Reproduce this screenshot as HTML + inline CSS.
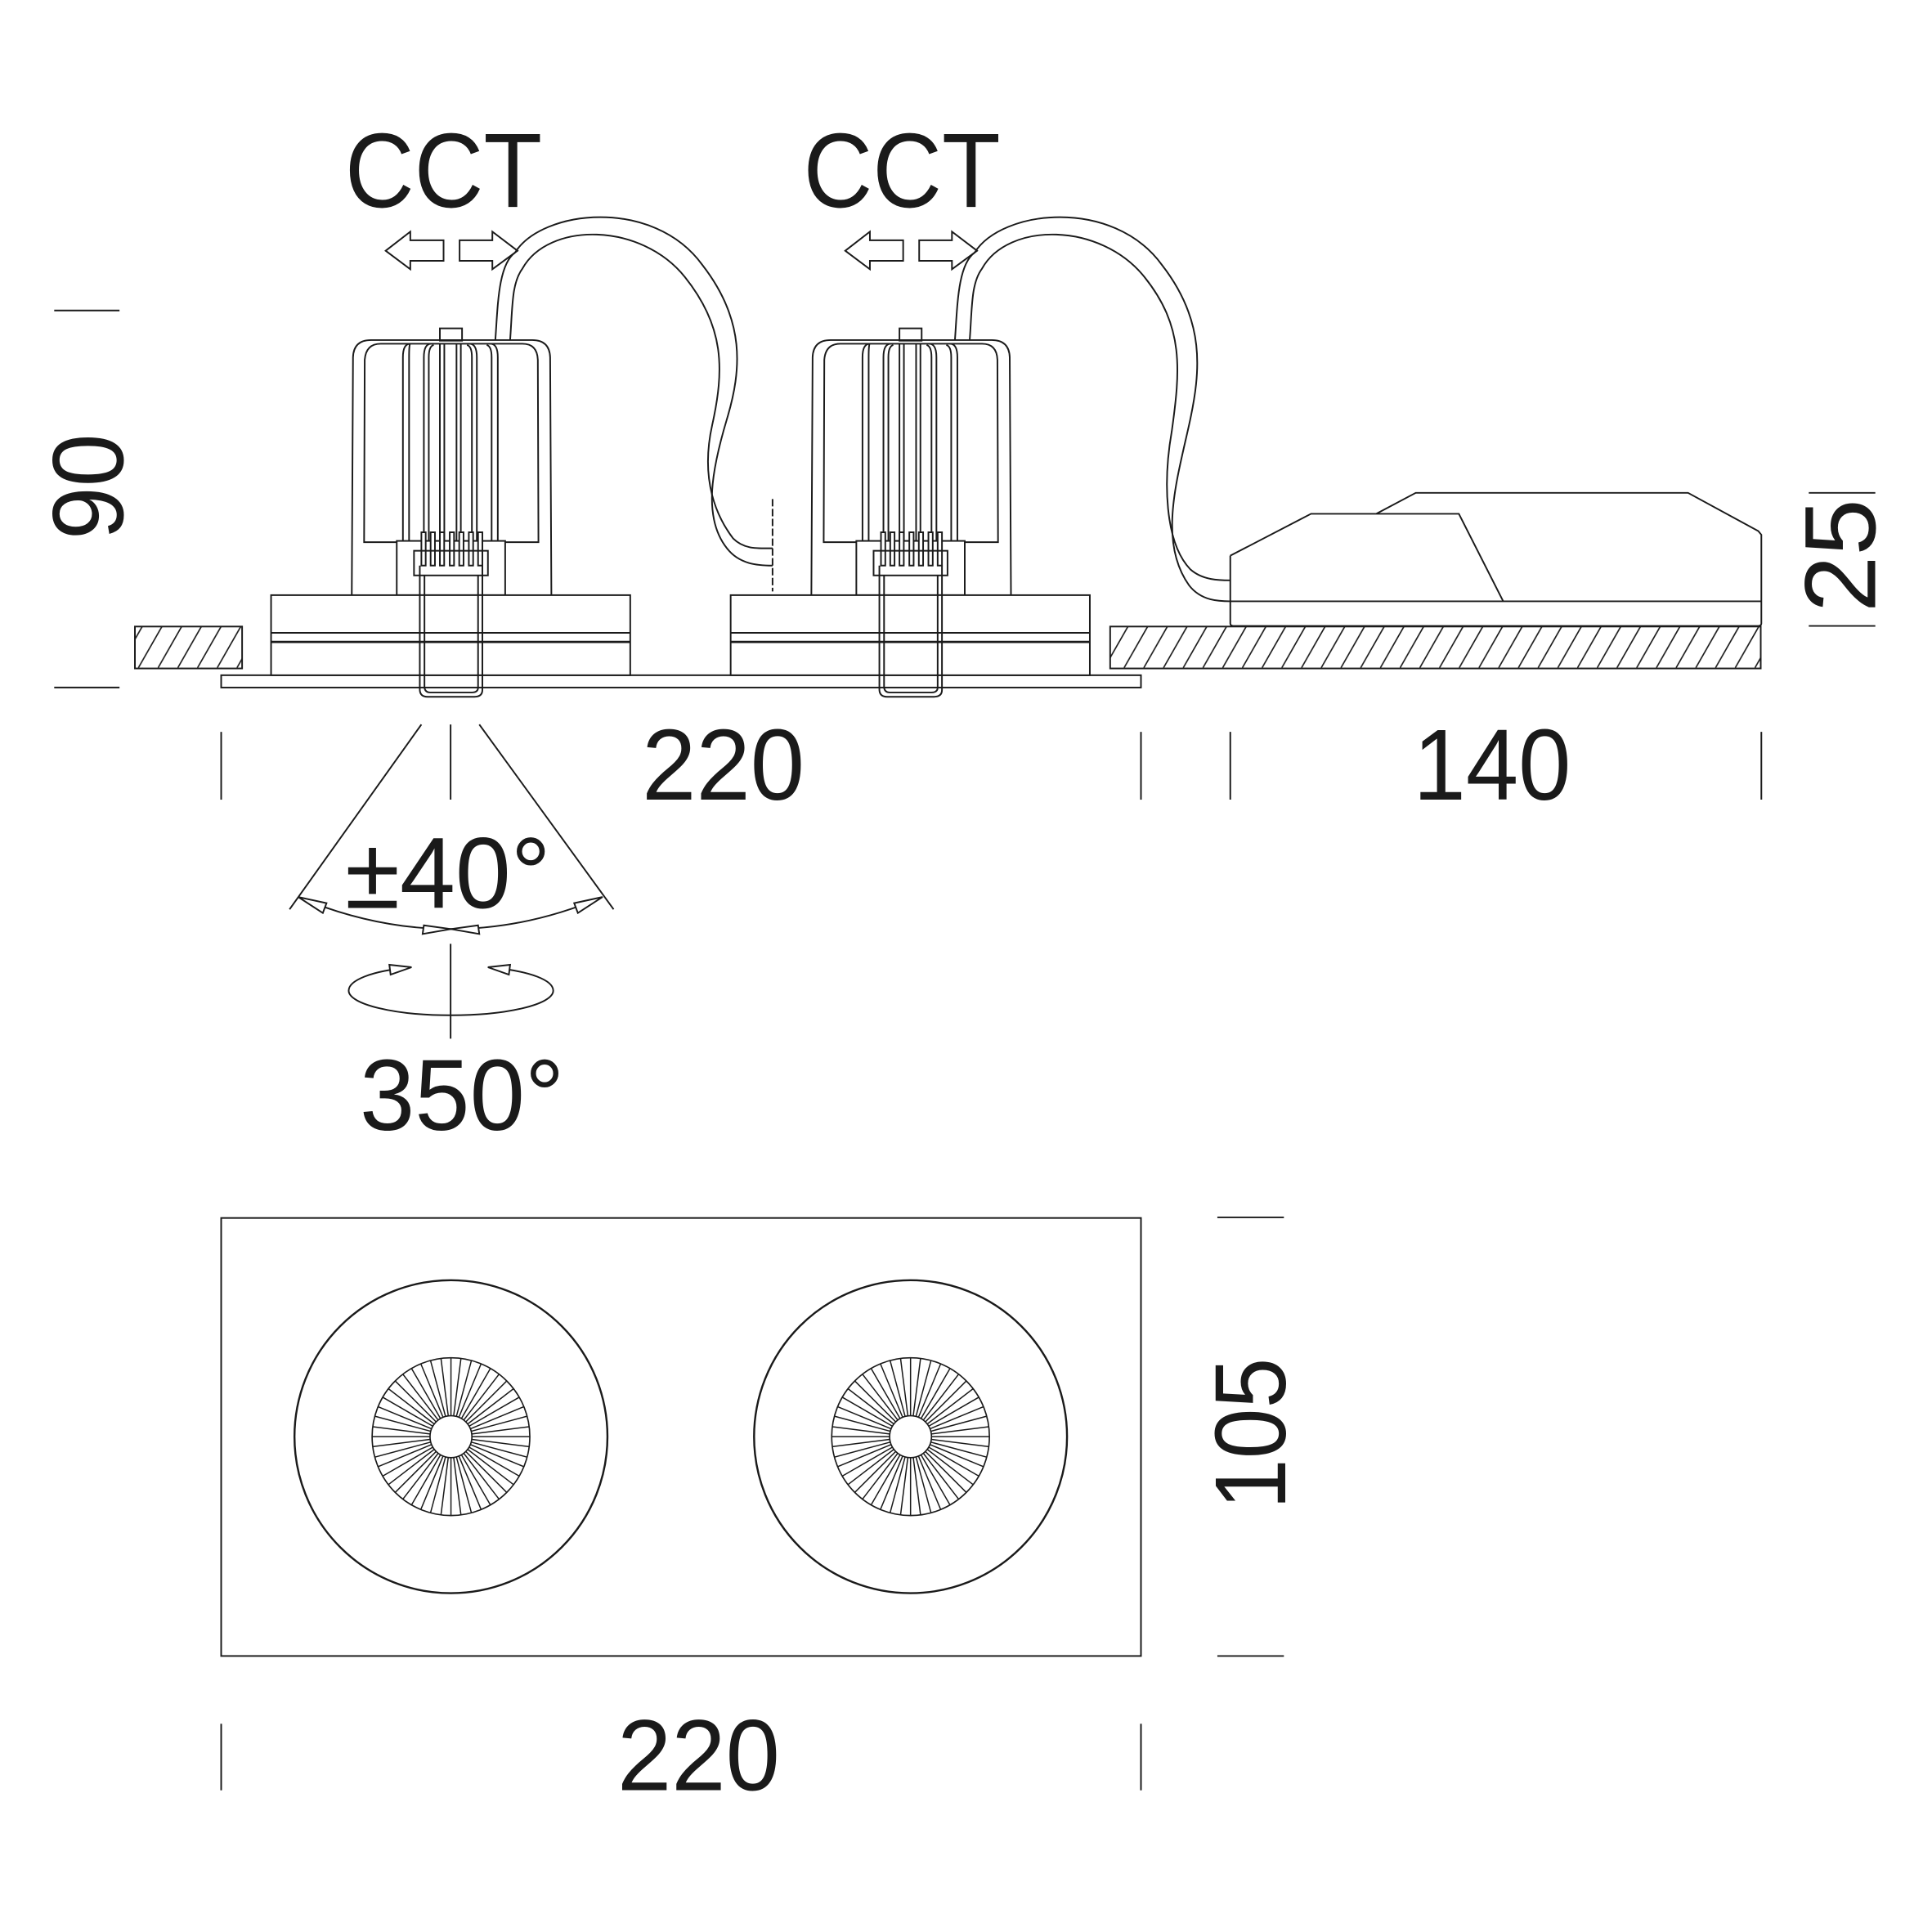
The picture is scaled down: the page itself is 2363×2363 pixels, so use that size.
<!DOCTYPE html>
<html><head><meta charset="utf-8"><style>html,body{margin:0;padding:0;background:#fff}svg{display:block}</style></head>
<body>
<svg width="2363" height="2363" viewBox="0 0 1568 1568" xmlns="http://www.w3.org/2000/svg">
<defs>
<pattern id="h" patternUnits="userSpaceOnUse" width="16" height="34" patternTransform="translate(0,508)">
<line x1="-2" y1="38" x2="22" y2="-4" stroke="#1a1a1a" stroke-width="1.1"/>
<line x1="-18" y1="38" x2="6" y2="-4" stroke="#1a1a1a" stroke-width="1.1"/>
</pattern>
<g id="lamp" fill="none" stroke="#1a1a1a" stroke-width="1.3">
<rect x="357" y="266.5" width="18" height="10" fill="#fff"/>
<path d="M285.5,483 L286.5,290 Q287,276 301,276 L432,276 Q446,276 446.5,290 L447.5,483"/>
<path d="M295.5,440 L296,292 Q297,279 309,279 L424,279 Q436,279 436.5,292 L437,440 Z"/>
<path d="M327,439 V290 Q327,279 333,279 Q332,279 332,290 V439"/>
<path d="M344,439 V290 Q344,279 350,279 M348,439 V290 Q348,281 352,280"/>
<line x1="357" y1="279" x2="357" y2="439"/><line x1="360.6" y1="279" x2="360.6" y2="439"/>
<line x1="370.5" y1="279" x2="370.5" y2="439"/><line x1="374" y1="279" x2="374" y2="439"/>
<path d="M383,439 V290 Q383,281 379,280 M387,439 V290 Q387,279 381,279"/>
<path d="M399,439 V290 Q399,281 395,280 M404,439 V290 Q404,279 398,279"/>
<rect x="322" y="439" width="88" height="44" fill="#fff"/>
<g fill="#fff"><rect x="342" y="432" width="3.5" height="27"/><rect x="349.5" y="432" width="3.5" height="27"/><rect x="357" y="432" width="3.5" height="27"/><rect x="365" y="432" width="3.5" height="27"/><rect x="372.7" y="432" width="3.5" height="27"/><rect x="380.5" y="432" width="3.5" height="27"/><rect x="388" y="432" width="3.5" height="27"/></g>
<rect x="336" y="447" width="60" height="20"/>
<rect x="220" y="483" width="291.5" height="65" fill="#fff"/>
<line x1="220" y1="513.6" x2="511.5" y2="513.6"/><line x1="220" y1="521" x2="511.5" y2="521" stroke-width="1.8"/>
<path d="M340.7,459 V560 Q341,565.5 347,565.5 H385 Q391.5,565.5 391.5,560 V459"/>
<path d="M344.5,467 V558 Q345,562 349,562 H383 Q388,562 388,558 V467"/>
<g transform="translate(-373,0)">
<path d="M686,203.5 L706,188 V195 H733 V211.7 H706 V218.5 Z"/>
<path d="M793,203.5 L772.6,188 V195 H746 V211.7 H772.6 V218.5 Z"/>
</g>
</g>
</defs>
<rect width="1568" height="1568" fill="#fff"/>
<g fill="none" stroke="#1a1a1a" stroke-width="1.3">
<rect x="109.5" y="508.5" width="87" height="34" fill="url(#h)"/>
<rect x="901" y="508.5" width="528" height="34" fill="url(#h)"/>
<rect x="179.5" y="548" width="746.5" height="10"/>
</g>
<use href="#lamp"/>
<use href="#lamp" transform="translate(373,0)"/>
<g fill="none" stroke="#1a1a1a" stroke-width="1.3">
<path d="M402,276 C404,250 404,215 418,205 C440,170 530,160 570,215 C605,260 602,300 590,340 C578,380 570,420 590,445 C600,458 615,459 627,459"/>
<path d="M414,276 C416,250 415,230 424,218 C445,180 520,180 556,225 C588,265 588,300 578,345 C568,390 582,420 595,437 C604,446 615,445 627,445"/>
<line x1="627" y1="405" x2="627" y2="480" stroke-dasharray="6 2"/>
<path d="M775,276 C777,250 777,215 791,205 C813,170 903,160 943,215 C978,260 975,300 965,345 C955,390 940,440 965,475 C975,488 990,488 998.5,488"/>
<path d="M787,276 C789,250 788,230 797,218 C818,180 893,180 929,225 C961,265 958,300 951,350 C944,390 945,440 966,462 C976,471 990,471 998.5,471"/>
<path d="M998.5,451 L1064,417 H1184 L1220,488 M998.5,451 V506 Q998.5,508 1001,508 H1427 Q1429.5,508 1429.5,506 V434 L1427,431 L1370,400 H1149 L1117,417"/>
<line x1="998.5" y1="488" x2="1429.5" y2="488"/>
<line x1="44" y1="252" x2="97" y2="252"/><line x1="44" y1="558" x2="97" y2="558"/>
<line x1="1468" y1="400" x2="1522" y2="400"/><line x1="1468" y1="508" x2="1522" y2="508"/>
<line x1="179.5" y1="594" x2="179.5" y2="649"/><line x1="926" y1="594" x2="926" y2="649"/>
<line x1="998.5" y1="594" x2="998.5" y2="649"/><line x1="1429.5" y1="594" x2="1429.5" y2="649"/>
<line x1="179.5" y1="1399" x2="179.5" y2="1453"/><line x1="926" y1="1399" x2="926" y2="1453"/>
<line x1="988" y1="988" x2="1042" y2="988"/><line x1="988" y1="1344" x2="1042" y2="1344"/>
<line x1="365.7" y1="588" x2="365.7" y2="649"/>
<line x1="342" y1="588" x2="235" y2="738"/><line x1="389" y1="588" x2="498" y2="738"/>
<path d="M242,728 Q366,780 489,728"/>
<path d="M242,728 L265,733 L262,741 Z M366,754 L344,751 L343,758 Z M366,754 L388,751 L389,758 Z M489,728 L466,733 L469,741 Z" fill="#fff"/>
<line x1="365.7" y1="766" x2="365.7" y2="843"/>
<path d="M334,785 C300,788 283,796 283,804 C283,815 320,824 366,824 C412,824 449,815 449,804 C449,796 432,788 396,785"/>
<path d="M334,785 L316,783 L317,791 Z M396,785 L414,783 L413,791 Z" fill="#fff"/>
<rect x="179.5" y="988.5" width="746.5" height="355.5"/>
<circle cx="366" cy="1166" r="127" stroke-width="1.6"/>
<circle cx="739" cy="1166" r="127" stroke-width="1.6"/>
</g>
<g fill="none" stroke="#1a1a1a" stroke-width="1.1">
<circle cx="366" cy="1166" r="64"/><circle cx="739" cy="1166" r="64"/>
</g>
<g stroke="#1a1a1a" stroke-width="1">
<path d="M366,1149V1102M366,1183V1230M349,1166H302M383,1166H430M739,1149V1102M739,1183V1230M722,1166H675M756,1166H803"/>
<path d="M370.4,1149.6L382.6,1104.2M374.5,1151.3L398,1110.6M378,1154L411.3,1120.7M380.7,1157.5L421.4,1134M382.4,1161.6L427.8,1149.4M382.4,1170.4L427.8,1182.6M380.7,1174.5L421.4,1198M378,1178L411.3,1211.3M374.5,1180.7L398,1221.4M370.4,1182.4L382.6,1227.8M361.6,1182.4L349.4,1227.8M357.5,1180.7L334,1221.4M354,1178L320.7,1211.3M351.3,1174.5L310.6,1198M349.6,1170.4L304.2,1182.6M349.6,1161.6L304.2,1149.4M351.3,1157.5L310.6,1134M354,1154L320.7,1120.7M357.5,1151.3L334,1110.6M361.6,1149.6L349.4,1104.2"/>
<path transform="translate(373,0)" d="M370.4,1149.6L382.6,1104.2M374.5,1151.3L398,1110.6M378,1154L411.3,1120.7M380.7,1157.5L421.4,1134M382.4,1161.6L427.8,1149.4M382.4,1170.4L427.8,1182.6M380.7,1174.5L421.4,1198M378,1178L411.3,1211.3M374.5,1180.7L398,1221.4M370.4,1182.4L382.6,1227.8M361.6,1182.4L349.4,1227.8M357.5,1180.7L334,1221.4M354,1178L320.7,1211.3M351.3,1174.5L310.6,1198M349.6,1170.4L304.2,1182.6M349.6,1161.6L304.2,1149.4M351.3,1157.5L310.6,1134M354,1154L320.7,1120.7M357.5,1151.3L334,1110.6M361.6,1149.6L349.4,1104.2"/>
<path d="M368.2,1149.1L374.1,1102.6M372.4,1150.3L390.4,1107M376.4,1152.5L405,1115.3M379.7,1155.6L416.9,1127M382,1159.5L425.3,1141.6M383,1163.8L429.5,1157.9M383,1168.2L429.5,1174.1M382,1172.5L425.3,1190.4M379.7,1176.4L416.9,1205M376.4,1179.5L405,1216.7M372.4,1181.7L390.4,1225M368.2,1182.9L374.1,1229.4M363.8,1182.9L357.9,1229.4M359.6,1181.7L341.6,1225M355.6,1179.5L327,1216.7M352.3,1176.4L315.1,1205M350,1172.5L306.7,1190.4M349,1168.2L302.5,1174.1M349,1163.8L302.5,1157.9M350,1159.5L306.7,1141.6M352.3,1155.6L315.1,1127M355.6,1152.5L327,1115.3M359.6,1150.3L341.6,1107M363.8,1149.1L357.9,1102.6"/>
<path transform="translate(373,0)" d="M368.2,1149.1L374.1,1102.6M372.4,1150.3L390.4,1107M376.4,1152.5L405,1115.3M379.7,1155.6L416.9,1127M382,1159.5L425.3,1141.6M383,1163.8L429.5,1157.9M383,1168.2L429.5,1174.1M382,1172.5L425.3,1190.4M379.7,1176.4L416.9,1205M376.4,1179.5L405,1216.7M372.4,1181.7L390.4,1225M368.2,1182.9L374.1,1229.4M363.8,1182.9L357.9,1229.4M359.6,1181.7L341.6,1225M355.6,1179.5L327,1216.7M352.3,1176.4L315.1,1205M350,1172.5L306.7,1190.4M349,1168.2L302.5,1174.1M349,1163.8L302.5,1157.9M350,1159.5L306.7,1141.6M352.3,1155.6L315.1,1127M355.6,1152.5L327,1115.3M359.6,1150.3L341.6,1107M363.8,1149.1L357.9,1102.6"/>
</g>
<g fill="#fff" stroke="#1a1a1a" stroke-width="1.1">
<circle cx="366" cy="1166" r="17"/><circle cx="739" cy="1166" r="17"/>
</g>
<g font-family="Liberation Sans, sans-serif" fill="#1a1a1a" font-size="82">
<text x="280" y="168" textLength="160" lengthAdjust="spacingAndGlyphs" font-size="86">CCT</text>
<text x="652" y="168" textLength="160" lengthAdjust="spacingAndGlyphs" font-size="86">CCT</text>
<text x="521" y="649" textLength="132" lengthAdjust="spacingAndGlyphs">220</text>
<text x="1147" y="649" textLength="128" lengthAdjust="spacingAndGlyphs">140</text>
<text x="280" y="737" textLength="167" lengthAdjust="spacingAndGlyphs">±40°</text>
<text x="292" y="917" textLength="166" lengthAdjust="spacingAndGlyphs">350°</text>
<text x="501" y="1453" textLength="132" lengthAdjust="spacingAndGlyphs">220</text>
<text transform="translate(100,438) rotate(-90)" textLength="86" lengthAdjust="spacingAndGlyphs">90</text>
<text transform="translate(1522,497) rotate(-90)" textLength="92" lengthAdjust="spacingAndGlyphs">25</text>
<text transform="translate(1043,1225) rotate(-90)" textLength="123" lengthAdjust="spacingAndGlyphs">105</text>
</g>
</svg>
</body></html>
